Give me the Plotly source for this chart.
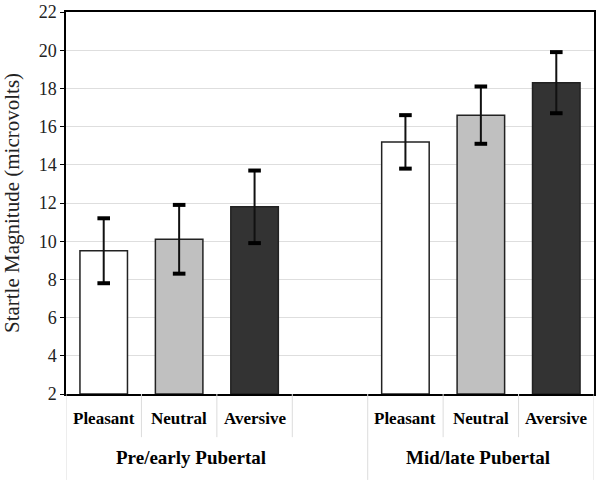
import plotly.graph_objects as go

conditions = ["Pleasant", "Neutral", "Aversive"]
groups = ["Pre/early Pubertal", "Mid/late Pubertal"]
pre_means = [9.5, 10.1, 11.8]
pre_err = [1.7, 1.8, 1.9]
mid_means = [15.2, 16.6, 18.3]
mid_err = [1.4, 1.5, 1.6]
colors = ["#ffffff", "#c0c0c0", "#333333"]
y_ticks = [2, 4, 6, 8, 10, 12, 14, 16, 18, 20, 22]

FONT = "Liberation Serif, Times New Roman, serif"

pos_pre = [0, 1, 2]
pos_mid = [4, 5, 6]
xs = pos_pre + pos_mid
means = pre_means + mid_means
errs = pre_err + mid_err
cols = colors + colors

fig = go.Figure()
fig.add_trace(go.Bar(
    x=xs, y=[m - 2 for m in means], base=2, width=0.63,
    marker=dict(color=cols, line=dict(color="#222222", width=1.5)),
    error_y=dict(type="data", array=errs, arrayminus=errs, color="#111111",
                 thickness=2, width=0, visible=True),
    showlegend=False, hoverinfo="skip"))
caps_x = xs + xs
caps_y = [m + e for m, e in zip(means, errs)] + [m - e for m, e in zip(means, errs)]
fig.add_trace(go.Scatter(
    x=caps_x, y=caps_y, mode="markers",
    marker=dict(symbol="line-ew", size=9, line=dict(color="#000000", width=4)),
    showlegend=False, hoverinfo="skip"))

annotations = []
for i, c in enumerate(conditions):
    for p in (pos_pre[i], pos_mid[i]):
        annotations.append(dict(x=p, y=-0.065, xref="x", yref="paper", text="<b>%s</b>" % c,
                                showarrow=False, font=dict(family=FONT, size=17, color="#000000"),
                                xanchor="center", yanchor="middle"))
annotations.append(dict(x=0.237, y=-0.167, xref="paper", yref="paper", text="<b>%s</b>" % groups[0],
                        showarrow=False, xanchor="center", yanchor="middle",
                        font=dict(family=FONT, size=19, color="#000000")))
annotations.append(dict(x=0.780, y=-0.167, xref="paper", yref="paper", text="<b>%s</b>" % groups[1],
                        showarrow=False, xanchor="center", yanchor="middle",
                        font=dict(family=FONT, size=19, color="#000000")))

shapes = []
for b in [0.5, 1.5, 2.5, 4.5, 5.5]:
    shapes.append(dict(type="line", xref="x", yref="paper", x0=b, x1=b, y0=0, y1=-0.113,
                       line=dict(color="#dcdcdc", width=1)))
for b in [-0.5, 3.5, 6.5]:
    shapes.append(dict(type="line", xref="x", yref="paper", x0=b, x1=b, y0=0, y1=-0.225,
                       line=dict(color="#dcdcdc", width=1)))

fig.update_layout(
    width=600, height=484,
    margin=dict(l=66, r=6, t=12, b=90, autoexpand=False),
    paper_bgcolor="white", plot_bgcolor="white",
    annotations=annotations, shapes=shapes,
    xaxis=dict(range=[-0.5, 6.5], showticklabels=False, showgrid=False, zeroline=False,
               showline=True, linecolor="#000000", linewidth=1.5, mirror=True, ticks="",
               automargin=False),
    yaxis=dict(range=[2, 22], tickvals=y_ticks, showgrid=True, gridcolor="#dedede", gridwidth=1,
               zeroline=False, showline=True, linecolor="#000000", linewidth=1.5, mirror=True,
               ticks="outside", ticklen=4, tickcolor="#000000", automargin=False,
               tickfont=dict(family=FONT, size=18, color="#222222"),
               title=dict(text="Startle Magnitude (microvolts)", standoff=16,
                          font=dict(family=FONT, size=21, color="#222222"))),
)

fig.write_html("out.html", config={"displayModeBar": False},
               post_script="document.body.style.margin='0px';")
